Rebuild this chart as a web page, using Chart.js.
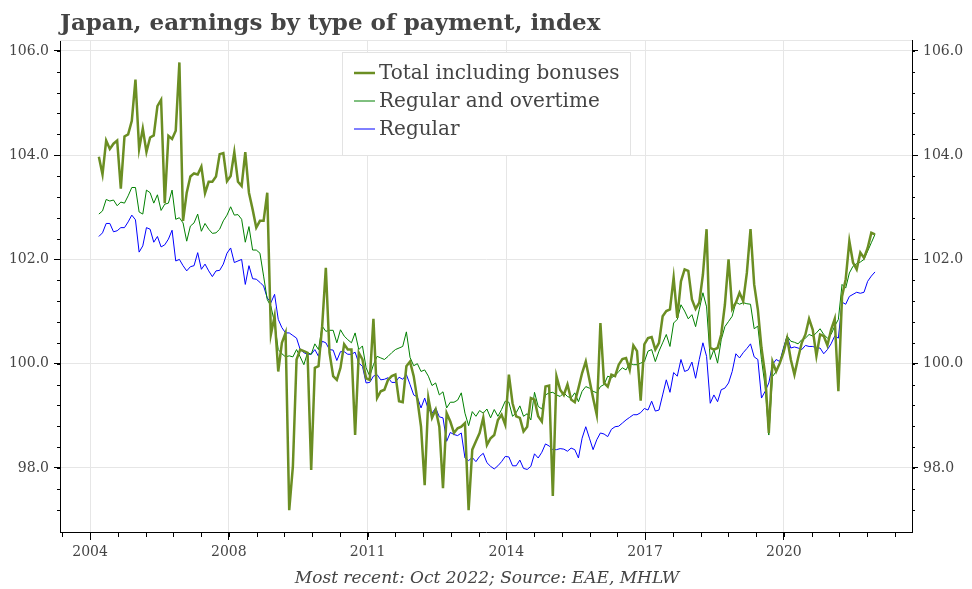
<!DOCTYPE html>
<html>
<head>
<meta charset="utf-8">
<script src="https://cdn.jsdelivr.net/npm/chart.js@4.4.0/dist/chart.umd.min.js"></script>
<style>
  html, body { margin: 0; padding: 0; background: #fff; }
  #wrap { width: 972px; height: 589px; }
</style>
</head>
<body>
<div id="wrap"><canvas id="chart" width="972" height="589"></canvas></div>
<script>
// ---------- Data (monthly) ----------
const startYear = 2005.19;   // x position of first month on the axis
const monthStep = 0.07915;   // one month on the axis

const total = [
  103.97, 103.63, 104.28, 104.12, 104.22, 104.28, 103.36, 104.36, 104.40, 104.66, 105.45, 104.12, 104.51,
  104.06, 104.34, 104.38, 104.94, 105.06, 103.08, 104.37, 104.31, 104.47, 105.78, 102.74, 103.28, 103.59,
  103.65, 103.63, 103.78, 103.27, 103.49, 103.49, 103.59, 104.02, 104.04, 103.50, 103.60, 104.06, 103.49,
  103.41, 104.06, 103.28, 102.96, 102.61, 102.74, 102.74, 103.28, 100.56, 100.91, 99.85, 100.40, 100.59,
  97.19, 98.03, 100.08, 100.27, 100.24, 100.21, 97.96, 99.92, 99.95, 100.72, 101.84, 100.21, 99.76,
  99.69, 99.92, 100.37, 100.27, 100.27, 98.63, 100.21, 100.08, 99.72, 99.69, 100.86, 99.34, 99.47,
  99.50, 99.69, 99.76, 99.79, 99.28, 99.26, 99.95, 100.04, 99.76, 99.31, 98.79, 97.67, 99.34,
  98.96, 99.12, 98.79, 97.61, 99.05, 98.89, 98.67, 98.76, 98.79, 98.86, 97.19, 98.35, 98.51,
  98.67, 98.96, 98.44, 98.57, 98.63, 98.92, 99.02, 98.83, 99.79, 99.24, 98.99, 98.96,
  98.70, 98.79, 99.34, 99.31, 98.99, 98.89, 99.56, 99.58, 97.46, 99.76, 99.50, 99.40, 99.60,
  99.31, 99.26, 99.53, 99.82, 100.04, 99.69, 99.34, 99.02, 100.78, 99.63, 99.56, 99.79, 99.76,
  99.98, 100.09, 100.11, 99.88, 100.35, 100.24, 99.29,
  100.37, 100.49, 100.51, 100.27, 100.40, 100.91, 101.01, 101.04, 101.65, 100.88, 101.58, 101.81, 101.78,
  101.23, 101.05, 101.17, 101.71, 102.58, 100.30, 100.27, 100.30, 100.56, 101.13, 102.00, 101.05, 101.17,
  101.36, 101.20, 101.74, 102.58, 101.52, 101.04, 100.30, 99.79, 98.67, 100.04, 99.85, 100.01,
  100.21, 100.49, 100.08, 99.79, 100.11, 100.40, 100.56, 100.86, 100.65, 100.15, 100.56, 100.53, 100.35,
  100.65, 100.86, 99.47, 101.29, 101.62, 102.35, 101.94, 101.81, 102.13, 102.03, 102.22, 102.51, 102.48
];

const regularOvertime = [
  102.87, 102.93, 103.15, 103.12, 103.14, 103.03, 103.10, 103.08, 103.22, 103.38, 103.38, 102.91, 102.87,
  103.33, 103.28, 103.08, 103.24, 102.94, 103.06, 103.08, 103.33, 102.77, 102.80, 102.70, 102.35, 102.64,
  102.70, 102.87, 102.54, 102.69, 102.58, 102.50, 102.51, 102.58, 102.74, 102.85, 103.01, 102.85, 102.86,
  102.77, 102.33, 102.63, 102.18, 102.18, 102.12, 101.68, 101.23, 101.10, 100.78, 100.27, 100.19, 100.13,
  100.15, 100.13, 100.27, 100.13, 99.98, 100.21, 100.18, 100.38, 100.27, 100.72, 100.62, 100.64, 100.64,
  100.40, 100.65, 100.53, 100.46, 100.40, 100.59, 100.27, 100.34, 99.92, 99.76, 99.98, 100.14, 100.11,
  100.08, 100.14, 100.21, 100.27, 100.30, 100.33, 100.61, 100.12, 99.96, 100.00, 99.85, 99.88, 99.76,
  99.58, 99.63, 99.40, 99.46, 99.15, 99.26, 99.26, 99.30, 99.44, 99.05, 98.81, 99.08, 98.99,
  99.10, 99.05, 99.13, 98.96, 99.12, 98.99, 99.12, 99.28, 99.26, 98.99, 99.06, 99.19,
  98.99, 99.04, 98.92, 99.45, 99.18, 99.13, 99.40, 99.44, 99.45, 99.40, 99.37, 99.44, 99.37,
  99.34, 99.44, 99.27, 99.47, 99.56, 99.53, 99.47, 99.44, 99.56, 99.60, 99.76, 99.73, 99.77,
  99.85, 99.92, 99.88, 100.01, 99.98, 99.98, 100.01,
  100.04, 100.24, 100.27, 100.04, 100.24, 100.40, 100.56, 100.33, 100.78, 100.85, 101.13, 101.01, 100.86,
  100.94, 100.71, 101.04, 101.36, 101.09, 100.08, 100.27, 100.01, 100.46, 100.71, 100.81, 100.91, 101.18,
  101.14, 101.17, 101.15, 101.14, 100.67, 100.72, 100.08, 99.56, 98.63, 99.75, 99.85, 100.01,
  100.27, 100.53, 100.43, 100.41, 100.38, 100.46, 100.49, 100.56, 100.53, 100.59, 100.67, 100.56, 100.49,
  100.56, 100.72, 100.85, 101.52, 101.45, 101.74, 101.87, 101.92, 101.95, 102.00, 102.16, 102.32, 102.48
];

const regular = [
  102.44, 102.51, 102.69, 102.69, 102.53, 102.55, 102.61, 102.61, 102.72, 102.85, 102.76, 102.14, 102.26,
  102.61, 102.58, 102.33, 102.44, 102.24, 102.28, 102.39, 102.56, 101.97, 102.00, 101.88, 101.78, 101.86,
  101.88, 102.13, 101.81, 101.91, 101.78, 101.67, 101.78, 101.79, 101.91, 102.12, 102.22, 101.94, 101.97,
  102.00, 101.52, 101.88, 101.63, 101.62, 101.56, 101.49, 101.26, 101.17, 101.33, 100.85, 100.69, 100.59,
  100.59, 100.54, 100.49, 100.27, 100.21, 100.18, 100.18, 100.27, 100.14, 100.43, 100.40, 100.27, 100.26,
  100.06, 100.23, 100.23, 100.18, 100.18, 100.22, 100.01, 99.95, 99.63, 99.64, 99.76, 99.79, 99.69,
  99.70, 99.73, 99.64, 99.64, 99.74, 99.70, 99.79, 99.60, 99.40, 99.36, 99.15, 99.34, 99.12,
  99.05, 99.15, 98.98, 98.96, 98.51, 98.68, 98.64, 98.62, 98.67, 98.19, 98.14, 98.20, 98.12,
  98.22, 98.28, 98.10, 98.03, 97.98, 98.04, 98.12, 98.22, 98.21, 98.04, 98.04, 98.15,
  97.99, 97.97, 98.03, 98.27, 98.19, 98.30, 98.46, 98.42, 98.35, 98.35, 98.37, 98.36, 98.32,
  98.38, 98.35, 98.19, 98.57, 98.79, 98.57, 98.35, 98.54, 98.67, 98.65, 98.60, 98.74, 98.79,
  98.80, 98.86, 98.92, 98.97, 99.02, 99.02, 99.06,
  99.14, 99.11, 99.28, 99.09, 99.11, 99.40, 99.69, 99.45, 99.83, 99.76, 100.08, 99.85, 99.88,
  100.03, 99.72, 100.08, 100.40, 100.14, 99.24, 99.40, 99.27, 99.50, 99.53, 99.63, 99.85, 100.19,
  100.11, 100.21, 100.29, 100.38, 100.13, 100.08, 99.34, 99.47, 99.63, 99.98, 100.08, 100.04,
  100.30, 100.53, 100.30, 100.32, 100.30, 100.27, 100.35, 100.33, 100.33, 100.30, 100.30, 100.19, 100.27,
  100.38, 100.53, 100.49, 101.18, 101.14, 101.29, 101.33, 101.37, 101.35, 101.37, 101.58, 101.68, 101.76
];

const seriesNames = ["Total including bonuses", "Regular and overtime", "Regular"];
const xTickValues = [2005, 2008, 2011, 2014, 2017, 2020];
const xTickLabels = ["2004", "2008", "2011", "2014", "2017", "2020"];
const yTickValues = [98, 100, 102, 104, 106];

// ---------- Helpers ----------
const SERIF = "'DejaVu Serif', serif";
const TEXT = "#444";

function toPoints(values) {
  return values.map((v, i) => ({ x: startYear + i * monthStep, y: v }));
}

function fixedTicks(values) {
  return scale => { scale.ticks = values.map(v => ({ value: v })); };
}

// title, caption, legend box and minor ticks
const decorations = {
  id: "decorations",
  beforeDatasetsDraw(chart) {
    // light frame line along the top of the plot
    const ctx = chart.ctx, area = chart.chartArea;
    ctx.save();
    ctx.strokeStyle = "#e6e6e6";
    ctx.lineWidth = 1;
    ctx.beginPath();
    ctx.moveTo(area.left, area.top + 0.5);
    ctx.lineTo(area.right, area.top + 0.5);
    ctx.stroke();
    ctx.restore();
  },
  afterDraw(chart) {
    const ctx = chart.ctx;
    const area = chart.chartArea;
    const xs = chart.scales.x, ys = chart.scales.y;
    ctx.save();

    // minor ticks
    ctx.strokeStyle = "#000";
    ctx.lineWidth = 1;
    ctx.beginPath();
    for (let v = 2004.4; v <= xs.max; v += 0.6) {
      const px = Math.round(xs.getPixelForValue(v)) + 0.5;
      ctx.moveTo(px, area.bottom);
      ctx.lineTo(px, area.bottom + 5);
    }
    for (let v = 97.2; v <= ys.max; v += 0.4) {
      const py = Math.round(ys.getPixelForValue(v)) + 0.5;
      ctx.moveTo(area.left - 3, py);
      ctx.lineTo(area.left, py);
      ctx.moveTo(area.right, py);
      ctx.lineTo(area.right + 3, py);
    }
    ctx.stroke();

    // title
    ctx.fillStyle = TEXT;
    ctx.font = "bold 23px " + SERIF;
    ctx.textAlign = "left";
    ctx.textBaseline = "alphabetic";
    ctx.fillText("Japan, earnings by type of payment, index", 60, 30);

    // caption
    ctx.font = "italic 17px " + SERIF;
    ctx.textAlign = "center";
    ctx.fillText("Most recent: Oct 2022; Source: EAE, MHLW", 487, 583);

    // legend
    const bx = 342, by = 52, bw = 288, bh = 103;
    ctx.fillStyle = "#fff";
    ctx.fillRect(bx, by, bw, bh);
    ctx.strokeStyle = "#e3e3e3";
    ctx.lineWidth = 1;
    ctx.strokeRect(bx + 0.5, by + 0.5, bw, bh);
    ctx.font = "20px " + SERIF;
    ctx.textAlign = "left";
    ctx.textBaseline = "middle";
    chart.data.datasets.forEach((ds, i) => {
      const ly = by + 21 + i * 28;
      ctx.strokeStyle = ds.borderColor;
      ctx.lineWidth = ds.borderWidth;
      ctx.beginPath();
      ctx.moveTo(bx + 12, ly);
      ctx.lineTo(bx + 33, ly);
      ctx.stroke();
      ctx.fillStyle = TEXT;
      ctx.fillText(ds.label, bx + 37, ly + 1);
    });
    ctx.restore();
  }
};

// ---------- Chart ----------
const tickFont = { family: SERIF, size: 14 };

new Chart(document.getElementById("chart"), {
  type: "line",
  data: {
    datasets: [
      { label: seriesNames[0], data: toPoints(total), borderColor: "#6b8e23", borderWidth: 2.5 },
      { label: seriesNames[1], data: toPoints(regularOvertime), borderColor: "#008000", borderWidth: 1 },
      { label: seriesNames[2], data: toPoints(regular), borderColor: "#0000ff", borderWidth: 1 }
    ]
  },
  options: {
    responsive: false,
    animation: false,
    devicePixelRatio: 1,
    layout: { padding: { top: 40, left: 0, right: 0, bottom: 0 } },
    elements: { point: { radius: 0 }, line: { tension: 0, fill: false } },
    plugins: { legend: { display: false }, tooltip: { enabled: false }, title: { display: false } },
    scales: {
      x: {
        type: "linear",
        min: 2004.35,
        max: 2022.77,
        afterBuildTicks: fixedTicks(xTickValues),
        afterFit: s => { s.height = 57; },
        grid: { color: "#e6e6e6", tickColor: "#000", tickLength: 8 },
        border: { display: true, color: "#000", width: 1 },
        ticks: {
          font: tickFont, color: TEXT, padding: 4, maxRotation: 0,
          callback: v => xTickLabels[xTickValues.indexOf(v)]
        }
      },
      y: {
        position: "left",
        min: 96.77,
        max: 106.21,
        afterBuildTicks: fixedTicks(yTickValues),
        afterFit: s => { s.width = 60; },
        grid: { color: "#e6e6e6", tickColor: "#000", tickLength: 6 },
        border: { display: true, color: "#000", width: 1 },
        ticks: { font: tickFont, color: TEXT, padding: 5, callback: v => v.toFixed(1) }
      },
      y2: {
        position: "right",
        min: 96.77,
        max: 106.21,
        afterBuildTicks: fixedTicks(yTickValues),
        afterFit: s => { s.width = 60; },
        grid: { drawOnChartArea: false, tickColor: "#000", tickLength: 6 },
        border: { display: true, color: "#000", width: 1 },
        ticks: { font: tickFont, color: TEXT, padding: 5, callback: v => v.toFixed(1) }
      }
    }
  },
  plugins: [decorations]
});
</script>
</body>
</html>
